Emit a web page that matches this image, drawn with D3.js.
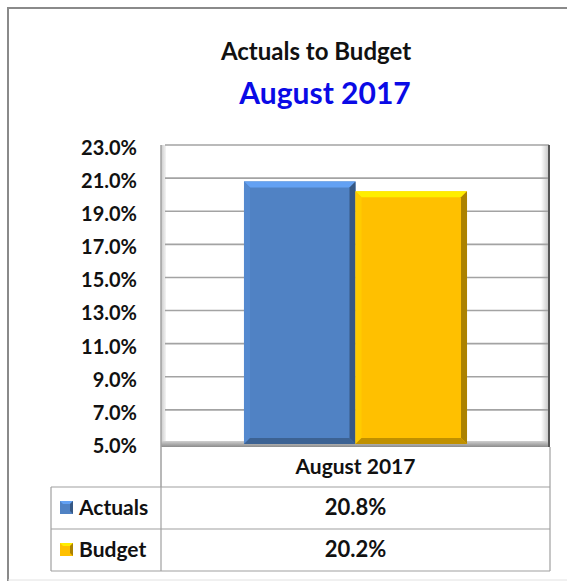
<!DOCTYPE html>
<html>
<head>
<meta charset="utf-8">
<script src="https://cdn.jsdelivr.net/npm/d3@7"></script>
<style>
  body { margin: 0; background: #fff; }
  text { font-family: Lato, "Open Sans", sans-serif; font-weight: bold; }
</style>
</head>
<body>
<svg id="chart" width="567" height="582"></svg>
<script>
// data
var categories = ["August 2017"];
var series = ["Actuals", "Budget"];
var values = [20.8, 20.2];
var seriesColors = ["#5082c4", "#ffc000"];
var yTicks = [5, 7, 9, 11, 13, 15, 17, 19, 21, 23];

var svg = d3.select("#chart");

// plot box
var pLeft = 161, pRight = 550, pTop = 145, pBottom = 443, floorH = 4;
var tableLeft = 51, rowH = 42, headH = 40;

var y = d3.scaleLinear().domain([5, 23]).range([pBottom, pTop]);
var x0 = d3.scaleBand().domain(categories).range([pLeft, pRight]).paddingInner(0).paddingOuter(0.372);
var x1 = d3.scaleBand().domain(series).range([0, x0.bandwidth()]);

var defs = svg.append("defs");
var lw = defs.append("linearGradient").attr("id", "leftwall");
lw.append("stop").attr("offset", 0).attr("stop-color", "#c9c9c9");
lw.append("stop").attr("offset", 1).attr("stop-color", "#f4f4f4");
var rw = defs.append("linearGradient").attr("id", "rightwall");
rw.append("stop").attr("offset", 0).attr("stop-color", "#ffffff");
rw.append("stop").attr("offset", 1).attr("stop-color", "#bdbdbd");
var fl = defs.append("linearGradient").attr("id", "floor").attr("x1", 0).attr("y1", 0).attr("x2", 0).attr("y2", 1);
fl.append("stop").attr("offset", 0).attr("stop-color", "#d0d0d0");
fl.append("stop").attr("offset", 1).attr("stop-color", "#8c8c8c");

// outer frame
svg.append("path")
  .attr("d", "M8,581 L8,8 L567,8")
  .attr("fill", "none").attr("stroke", "#8a8a8a").attr("stroke-width", 2);
svg.append("line").attr("x1", 8).attr("x2", 567).attr("y1", 580).attr("y2", 580)
  .attr("stroke", "#e2e2e2").attr("stroke-width", 1);

// titles
svg.append("text").attr("x", 316).attr("y", 60).attr("text-anchor", "middle")
  .attr("font-size", 24).attr("fill", "#111").text("Actuals to Budget");
svg.append("text").attr("x", 325).attr("y", 104).attr("text-anchor", "middle")
  .attr("font-size", 30).attr("fill", "#0a0ae6").text("August 2017");

// walls
svg.append("rect").attr("x", pLeft).attr("y", pTop).attr("width", pRight - pLeft).attr("height", pBottom + floorH - pTop)
  .attr("fill", "#fff");
svg.append("rect").attr("x", pLeft).attr("y", pTop).attr("width", 5).attr("height", pBottom - pTop)
  .attr("fill", "url(#leftwall)");
svg.append("rect").attr("x", pRight - 9).attr("y", pTop).attr("width", 9).attr("height", pBottom - pTop)
  .attr("fill", "url(#rightwall)");

// gridlines
svg.append("g").selectAll("line").data(yTicks).join("line")
  .attr("x1", pLeft + 4).attr("x2", pRight - 1)
  .attr("y1", d => y(d)).attr("y2", d => y(d))
  .attr("stroke", "#a3a3a3").attr("stroke-width", 1.6);

// floor
svg.append("rect").attr("x", pLeft).attr("y", pBottom - 2).attr("width", pRight - pLeft).attr("height", floorH + 2)
  .attr("fill", "url(#floor)");

// frame edges
svg.append("line").attr("x1", pLeft).attr("x2", pLeft).attr("y1", pTop).attr("y2", pBottom + floorH + headH)
  .attr("stroke", "#a0a0a0").attr("stroke-width", 1.5);
svg.append("line").attr("x1", pRight - 1).attr("x2", pRight - 1).attr("y1", pTop).attr("y2", pBottom + floorH)
  .attr("stroke", "#555").attr("stroke-width", 2);

// bars with bevel
var b = 6;
function shade(c, k) { return k > 0 ? d3.color(c).brighter(k).formatHex() : d3.color(c).darker(-k).formatHex(); }
var bars = svg.append("g").selectAll("g")
  .data(series.map((s, i) => ({ cat: categories[0], s: s, v: values[i], c: seriesColors[i] })))
  .join("g");
bars.each(function(d) {
  var g = d3.select(this);
  var bx = x0(d.cat) + x1(d.s), bw = x1.bandwidth();
  var by = y(d.v), bb = y(5) + 1;
  g.append("rect").attr("x", bx).attr("y", by).attr("width", bw).attr("height", bb - by).attr("fill", d.c);
  // top
  g.append("polygon").attr("points", [[bx, by], [bx + bw, by], [bx + bw - b, by + b], [bx + b, by + b]].join(" "))
    .attr("fill", shade(d.c, 0.6));
  // left
  g.append("polygon").attr("points", [[bx, by], [bx + b, by + b], [bx + b, bb - b], [bx, bb]].join(" "))
    .attr("fill", shade(d.c, 0.15));
  // right
  g.append("polygon").attr("points", [[bx + bw, by], [bx + bw, bb], [bx + bw - b, bb - b], [bx + bw - b, by + b]].join(" "))
    .attr("fill", shade(d.c, -1.1));
  // bottom
  g.append("polygon").attr("points", [[bx, bb], [bx + b, bb - b], [bx + bw - b, bb - b], [bx + bw, bb]].join(" "))
    .attr("fill", shade(d.c, -0.8));
});

// y axis
var yAxis = d3.axisLeft(y).tickValues(yTicks).tickSize(0).tickPadding(0).tickFormat(d => d.toFixed(1) + "%");
var ga = svg.append("g").attr("transform", "translate(137,3)").call(yAxis);
ga.select(".domain").remove();
ga.selectAll("text").attr("font-size", 20).attr("fill", "#111")
  .style("font-family", "Lato, sans-serif").style("font-weight", "bold");

// data table
var tTop = pBottom + floorH, r1 = tTop + headH, r2 = r1 + rowH, r3 = r2 + rowH;
var tg = svg.append("g").attr("stroke", "#a0a0a0").attr("stroke-width", 1.2);
tg.append("line").attr("x1", pRight).attr("x2", pRight).attr("y1", tTop).attr("y2", r3);
tg.append("line").attr("x1", tableLeft).attr("x2", tableLeft).attr("y1", r1).attr("y2", r3);
tg.append("line").attr("x1", pLeft).attr("x2", pLeft).attr("y1", r1).attr("y2", r3);
[r1, r2, r3].forEach(v => tg.append("line").attr("x1", tableLeft).attr("x2", pRight).attr("y1", v).attr("y2", v));

var midX = x0(categories[0]) + x0.bandwidth() / 2;
svg.append("text").attr("x", midX).attr("y", tTop + 27).attr("text-anchor", "middle")
  .attr("font-size", 21).attr("fill", "#111").text(categories[0]);

series.forEach(function(s, i) {
  var ry = r1 + i * rowH;
  var kx = 60, ky = ry + 14, ks = 13;
  svg.append("rect").attr("x", kx).attr("y", ky).attr("width", ks).attr("height", ks).attr("fill", seriesColors[i]);
  svg.append("polygon").attr("points", [[kx, ky], [kx + ks, ky], [kx + ks - 3, ky + 3], [kx + 3, ky + 3]].join(" "))
    .attr("fill", shade(seriesColors[i], 0.6));
  svg.append("polygon").attr("points", [[kx + ks, ky], [kx + ks, ky + ks], [kx + ks - 3, ky + ks - 3], [kx + ks - 3, ky + 3]].join(" "))
    .attr("fill", shade(seriesColors[i], -1.1));
  svg.append("text").attr("x", 79).attr("y", ry + 28).attr("font-size", 21).attr("fill", "#111").text(s);
  svg.append("text").attr("x", midX).attr("y", ry + 28).attr("text-anchor", "middle")
    .attr("font-size", 22).attr("fill", "#111").text(values[i].toFixed(1) + "%");
});
</script>
</body>
</html>
